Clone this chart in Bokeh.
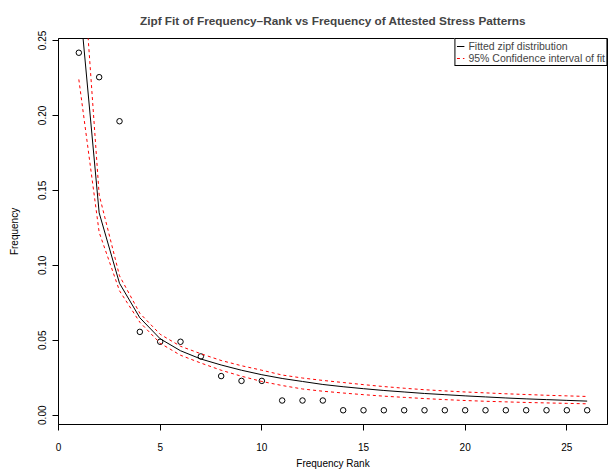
from bokeh.plotting import figure
from bokeh.models import FixedTicker, Range1d, Legend, LegendItem, CustomJSTickFormatter
from bokeh.embed import file_html
from bokeh.resources import INLINE

# Observed data: frequency by rank
rank = list(range(1, 27))
freq = [0.2418, 0.2255, 0.1961, 0.0556, 0.0490, 0.0490, 0.0392, 0.0261, 0.0229, 0.0229,
        0.0098, 0.0098, 0.0098,
        0.0033, 0.0033, 0.0033, 0.0033, 0.0033, 0.0033, 0.0033, 0.0033, 0.0033, 0.0033,
        0.0033, 0.0033, 0.0033]

# Fitted zipf distribution and its 95% confidence band
fit = [0.282, 0.135, 0.088, 0.065, 0.051, 0.043, 0.0375, 0.0335, 0.030, 0.027,
       0.0245, 0.0225, 0.0205, 0.019, 0.0177, 0.0165, 0.0155, 0.0145, 0.0137, 0.0129,
       0.0122, 0.0115, 0.0109, 0.0104, 0.0099, 0.0094]
upper = [0.340, 0.147, 0.093, 0.068, 0.054, 0.046, 0.041, 0.0365, 0.033, 0.030,
         0.0268, 0.0248, 0.0232, 0.0218, 0.0204, 0.0191, 0.0180, 0.0170, 0.0162, 0.0155,
         0.0149, 0.0143, 0.0138, 0.0133, 0.0129, 0.0125]
lower = [0.224, 0.122, 0.083, 0.062, 0.048, 0.040, 0.0348, 0.030, 0.026, 0.0225,
         0.0198, 0.0175, 0.0160, 0.0148, 0.0137, 0.0127, 0.0119, 0.0111, 0.0104, 0.0098,
         0.0093, 0.0089, 0.0085, 0.0082, 0.0079, 0.0076]

x_ticks = [0, 5, 10, 15, 20, 25]
y_ticks = [0.0, 0.05, 0.10, 0.15, 0.20, 0.25]

title_text = "Zipf Fit of Frequency\u2013Rank vs Frequency of Attested Stress Patterns"
FONT = "Liberation Sans"

p = figure(width=608, height=473, output_backend="svg", toolbar_location=None,
           x_range=Range1d(0, 27), y_range=Range1d(-0.0062, 0.2513),
           min_border_left=58, min_border_right=1, min_border_top=37, min_border_bottom=49,
           background_fill_color="white", border_fill_color="white")

p.title.text = title_text
p.title.text_font = FONT
p.title.text_font_size = "11.8px"
p.title.text_font_style = "bold"
p.title.align = "center"
p.title.standoff = 22

p.xgrid.visible = False
p.ygrid.visible = False
p.outline_line_color = "black"
p.outline_line_width = 1
p.outline_line_alpha = 1

for ax in (p.xaxis[0], p.yaxis[0]):
    ax.axis_line_color = "black"
    ax.major_tick_line_color = "black"
    ax.major_tick_out = 6
    ax.major_tick_in = 0
    ax.minor_tick_out = 0
    ax.minor_tick_in = 0
    ax.major_label_text_font = FONT
    ax.major_label_text_font_size = "10px"
    ax.major_label_text_color = "black"
    ax.axis_label_text_font = FONT
    ax.axis_label_text_font_size = "10px"
    ax.axis_label_text_font_style = "normal"
    ax.axis_label_text_color = "black"

p.xaxis.ticker = FixedTicker(ticks=x_ticks)
p.yaxis.ticker = FixedTicker(ticks=y_ticks)
p.yaxis.formatter = CustomJSTickFormatter(code="return tick.toFixed(2);")
p.yaxis.major_label_orientation = "vertical"
p.xaxis.axis_label = "Frequency Rank"
p.yaxis.axis_label = "Frequency"
p.xaxis.major_label_standoff = 12
p.xaxis.axis_label_standoff = 4
p.yaxis.major_label_standoff = 6
p.yaxis.axis_label_standoff = 16

p.scatter(rank, freq, marker="circle", size=5.5, fill_color=None, line_color="black", line_width=1)
r_fit = p.line(rank, fit, line_color="black", line_width=1)
r_up = p.line(rank, upper, line_color="red", line_width=1, line_dash="3 3")
r_lo = p.line(rank, lower, line_color="red", line_width=1, line_dash="3 3")

legend = Legend(items=[
    LegendItem(label="Fitted zipf distribution", renderers=[r_fit]),
    LegendItem(label="95% Confidence interval of fit", renderers=[r_up]),
], location="top_right")
legend.margin = 0
legend.padding = 1
legend.spacing = 0
legend.glyph_width = 8
legend.glyph_height = 8
legend.label_height = 8
legend.label_standoff = 4
legend.label_text_font = FONT
legend.label_text_font_size = "10.5px"
legend.label_text_line_height = 0.75
legend.border_line_color = "black"
legend.border_line_width = 1
legend.border_line_alpha = 1
legend.background_fill_color = "white"
legend.background_fill_alpha = 1
p.add_layout(legend)

open("out.html", "w").write(file_html(p, INLINE))
